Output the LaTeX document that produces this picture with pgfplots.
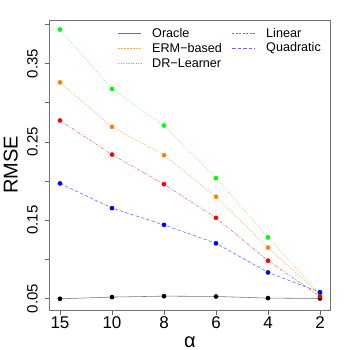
\documentclass[border=0pt]{standalone}
\usepackage{fontspec}
\setmainfont{Liberation Sans}
\usepackage{pgfplots}
\usepackage{pgfplotstable}
\pgfplotsset{compat=1.18}
\pgfplotstableread{
x oracle erm dr lin quad
0 0.0496 0.326 0.3936 0.2774 0.197
1 0.0518 0.2692 0.3176 0.2338 0.1654
2 0.0530 0.233 0.271 0.196 0.144
3 0.0526 0.180 0.2038 0.153 0.1205
4 0.0505 0.115 0.128 0.0983 0.0833
5 0.0500 0.055 0.056 0.0526 0.058
}\data
\tikzset{
  lOr/.style={draw=black!55, solid, line width=0.55pt},
  lLi/.style={draw=red!60, dash pattern=on 3pt off 1.5pt on 1pt off 1.5pt, line width=0.55pt},
  lEr/.style={draw=orange!65, dash pattern=on 1.5pt off 1.5pt, line width=0.55pt},
  lQu/.style={draw=blue!60, dash pattern=on 3.5pt off 2pt, line width=0.55pt},
  lDr/.style={draw=green!65, dash pattern=on 0.8pt off 1.6pt, line width=0.55pt},
  leg/.style={anchor=west, inner sep=0pt, font=\fontsize{12.6}{15}\selectfont},
}
\begin{document}
\begin{tikzpicture}[x=1pt,y=1pt]
\path[use as bounding box] (-49.6,-40) rectangle (300.4,310);
\begin{axis}[
  at={(0,0)}, anchor=south west,
  width=280.8pt, height=290pt, scale only axis,
  xmin=-0.2, xmax=5.2, ymin=0.0353, ymax=0.4057,
  xtick={0,1,2,3,4,5}, xticklabels={15,10,8,6,4,2},
  ytick={0.05,0.1,0.15,0.2,0.25,0.3,0.35,0.4},
  yticklabels={0.05,,0.15,,0.25,,0.35,},
  tick align=outside, major tick length=5pt,
  tick style={black!60, line width=0.7pt},
  xtick pos=bottom, ytick pos=left,
  axis line style={black!55, line width=0.9pt},
  xticklabel style={font=\fontsize{17}{20}\selectfont, anchor=north, inner sep=0pt},
  yticklabel style={font=\fontsize{15}{18}\selectfont, rotate=90, anchor=south, inner sep=0pt},
  xticklabel shift=1.7pt, yticklabel shift=6.7pt,
  xlabel={α}, ylabel={RMSE},
  xlabel style={font=\fontsize{20}{24}\selectfont, at={(axis description cs:0.5,-0.1276)}, anchor=base, inner sep=0pt},
  ylabel style={font=\fontsize{20}{24}\selectfont, at={(axis description cs:-0.114,0.5)}, anchor=base, rotate=0, inner sep=0pt},
  clip=false,
]
\addplot[lOr] table[x=x,y=oracle] {\data};
\addplot[lEr] table[x=x,y=erm] {\data};
\addplot[lDr] table[x=x,y=dr] {\data};
\addplot[lLi] table[x=x,y=lin] {\data};
\addplot[lQu] table[x=x,y=quad] {\data};
\addplot[only marks, mark=*, mark size=2.1pt, black] table[x=x,y=oracle] {\data};
\addplot[only marks, mark=*, mark size=2.1pt, orange] table[x=x,y=erm] {\data};
\addplot[only marks, mark=*, mark size=2.1pt, green] table[x=x,y=dr] {\data};
\addplot[only marks, mark=*, mark size=2.1pt, red] table[x=x,y=lin] {\data};
\addplot[only marks, mark=*, mark size=2.1pt, blue] table[x=x,y=quad] {\data};
% legend: sample lines first, then texts
\draw[lOr] (rel axis cs:0.2436,0.9552) -- ++(23pt,0pt);
\draw[lEr] (rel axis cs:0.2436,0.9034) -- ++(23pt,0pt);
\draw[lDr, draw=green!80, dash pattern=on 1pt off 1.5pt, line width=0.6pt] (rel axis cs:0.2436,0.8517) -- ++(23pt,0pt);
\draw[lLi, draw=red!75, dash pattern=on 2pt off 1.5pt, line width=0.6pt] (rel axis cs:0.6496,0.9552) -- ++(23pt,0pt);
\draw[lQu] (rel axis cs:0.6496,0.9034) -- ++(23pt,0pt);
\node[leg] at (rel axis cs:0.3647,0.9552) {Oracle};
\node[leg] at (rel axis cs:0.3647,0.9034) {ERM−based};
\node[leg] at (rel axis cs:0.3647,0.8517) {DR−Learner};
\node[leg] at (rel axis cs:0.7707,0.9552) {Linear};
\node[leg] at (rel axis cs:0.7707,0.9034) {Quadratic};
\end{axis}
\end{tikzpicture}
\end{document}
